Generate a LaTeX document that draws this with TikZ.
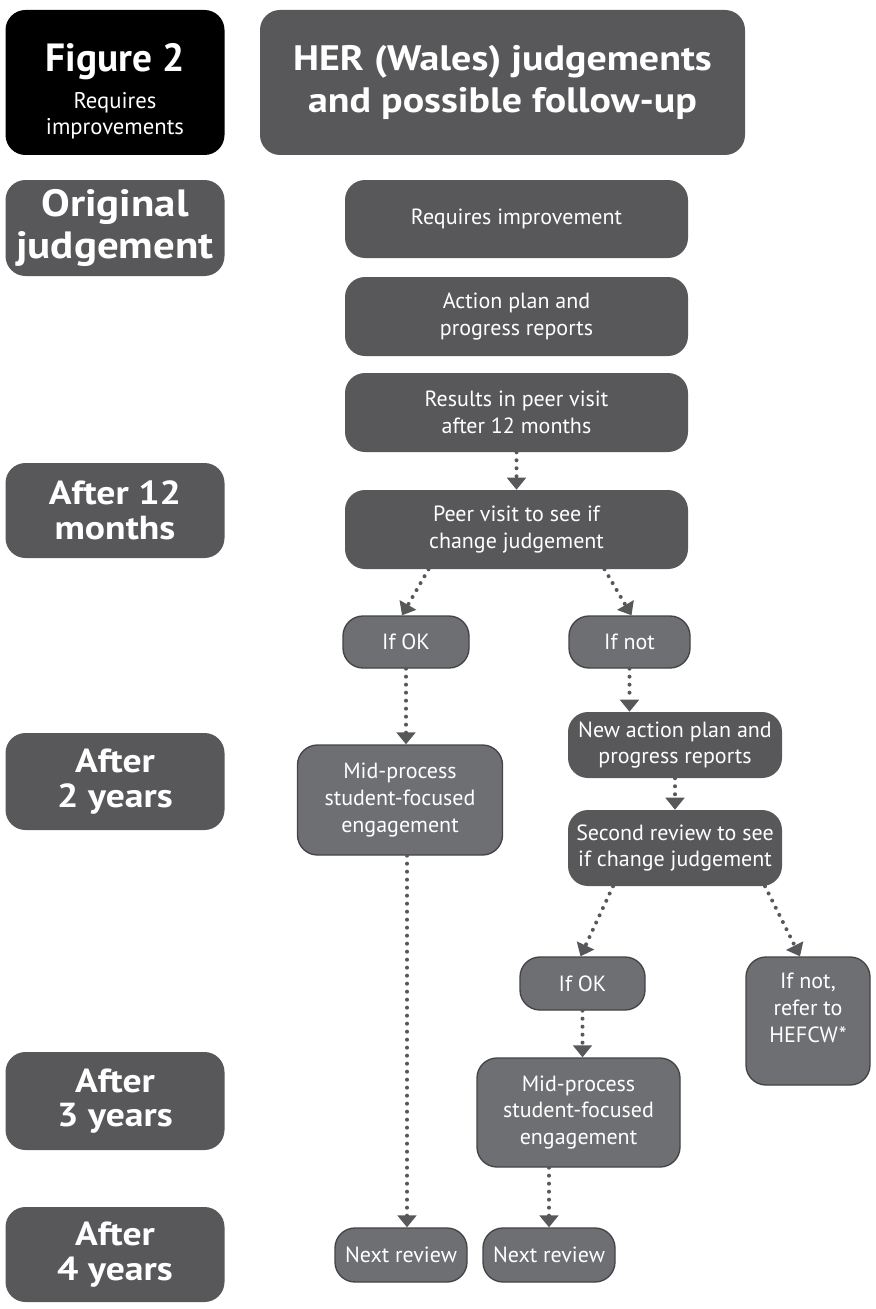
\documentclass[tikz,border=0pt]{standalone}
\usepackage{fontspec}
\setmainfont{PT Sans}
\newfontfamily\herwide[FakeStretch=1.13]{PT Sans}
\usetikzlibrary{arrows.meta,calc}
\definecolor{herdark}{RGB}{88,88,90}
\definecolor{herlight}{RGB}{110,111,114}
\definecolor{herline}{RGB}{68,68,70}

\tikzset{
  darkbox/.style={fill=herdark, text=white, align=center, inner sep=0pt, rounded corners=15pt},
  lightbox/.style={fill=herlight, draw=herline, line width=1pt, text=white, align=center, inner sep=0pt, rounded corners=15pt},
  stagebox/.style={darkbox, minimum width=164.25pt, font=\herwide\fontsize{25}{26}\selectfont\bfseries},
  bodytext/.style={font=\fontsize{16.5}{20}\selectfont},
  flow/.style={herdark, line width=3pt, line cap=round, dash pattern=on 0pt off 6pt,
    -{Triangle[width=14pt,length=9pt]}}
}

\begin{document}
\begin{tikzpicture}[x=0.75pt,y=-0.75pt]
\useasboundingbox (0,0) rectangle (875,1309);

% heading row
\node[darkbox, fill=black, minimum width=164.25pt, minimum height=108.75pt, font=\fontsize{17}{19}\selectfont] (fig) at (115,82.5)
  {{\fontsize{29.5}{30}\selectfont\bfseries\rule{0pt}{34pt}Figure 2}\\[9pt]Requires\\improvements};
\node[darkbox, minimum width=363.75pt, minimum height=108.75pt, font=\herwide\fontsize{26.5}{32}\selectfont\bfseries] (title) at (502.5,82.5)
  {HER (Wales) judgements\\and possible follow-up};

% stages down the left
\node[stagebox, minimum height=72pt, font=\herwide\fontsize{28.5}{31}\selectfont\bfseries] (orig) at (115,228) {Original\\judgement};
\node[stagebox, minimum height=71.25pt] (m12) at (115,510.5) {After 12\\months};
\node[stagebox, minimum height=72.75pt] (y2) at (115,781.5) {After\\2 years};
\node[stagebox, minimum height=73.5pt] (y3) at (115,1101) {After\\3 years};
\node[stagebox, minimum height=71.25pt] (y4) at (115,1254.5) {After\\4 years};

% main column
\node[darkbox, bodytext, minimum width=257.25pt, minimum height=58.5pt] (req) at (516.5,219) {Requires improvement};
\node[darkbox, bodytext, minimum width=257.25pt, minimum height=59.25pt] (plan) at (516.5,316.5) {Action plan and\\progress reports};
\node[darkbox, bodytext, minimum width=257.25pt, minimum height=59.25pt] (res) at (516.5,412.5) {Results in peer visit\\after 12 months};
\node[darkbox, bodytext, minimum width=257.25pt, minimum height=59.25pt] (peer) at (516.5,529.5) {Peer visit to see if\\change judgement};

% first outcome
\node[lightbox, bodytext, minimum width=94.5pt, minimum height=39pt] (okA) at (406,642) {If OK};
\node[lightbox, bodytext, minimum width=90.75pt, minimum height=39pt] (notA) at (629.5,642) {If not};
\node[lightbox, bodytext, minimum width=153.75pt, minimum height=82.5pt] (midA) at (400,800) {Mid-process\\student-focused\\engagement};
\node[darkbox, bodytext, minimum width=160.5pt, minimum height=49.5pt] (newplan) at (675,745) {New action plan and\\progress reports};
\node[darkbox, bodytext, minimum width=160.5pt, minimum height=57pt] (second) at (675,848) {Second review to see\\if change judgement};

% second outcome
\node[lightbox, bodytext, minimum width=93.75pt, minimum height=39.75pt] (okB) at (582.5,983.5) {If OK};
\node[lightbox, bodytext, minimum width=93pt, minimum height=96pt] (hef) at (808,1021) {If not,\\refer to\\HEFCW*\\\mbox{}};
\node[lightbox, bodytext, minimum width=152.25pt, minimum height=81.75pt] (midB) at (578.5,1112.5) {Mid-process\\student-focused\\engagement};
\node[lightbox, bodytext, minimum width=99pt, minimum height=40.5pt] (nextA) at (401,1255) {Next review};
\node[lightbox, bodytext, minimum width=99pt, minimum height=40.5pt] (nextB) at (549,1255) {Next review};

% connectors
\draw[flow] (res.south) -- (peer.north);
\draw[flow] ($(peer.south)+(-88,0)$) -- ($(okA.north)+(-4,0)$);
\draw[flow] ($(peer.south)+(88,0)$) -- ($(notA.north)+(2,0)$);
\draw[flow] (okA.south) -- (okA.south |- midA.north);
\draw[flow] (notA.south) -- (notA.south |- newplan.north);
\draw[flow] (newplan.south) -- (second.north);
\draw[flow] ($(second.south)+(-62,0)$) -- ($(okB.north)+(-2,0)$);
\draw[flow] ($(second.south)+(90,0)$) -- ($(hef.north)+(-8,0)$);
\draw[flow] (okB.south) -- (okB.south |- midB.north);
\draw[flow] ($(midA.south)+(7,0)$) -- ($(nextA.north)+(6,0)$);
\draw[flow] (nextB.north |- midB.south) -- (nextB.north);

\end{tikzpicture}
\end{document}
